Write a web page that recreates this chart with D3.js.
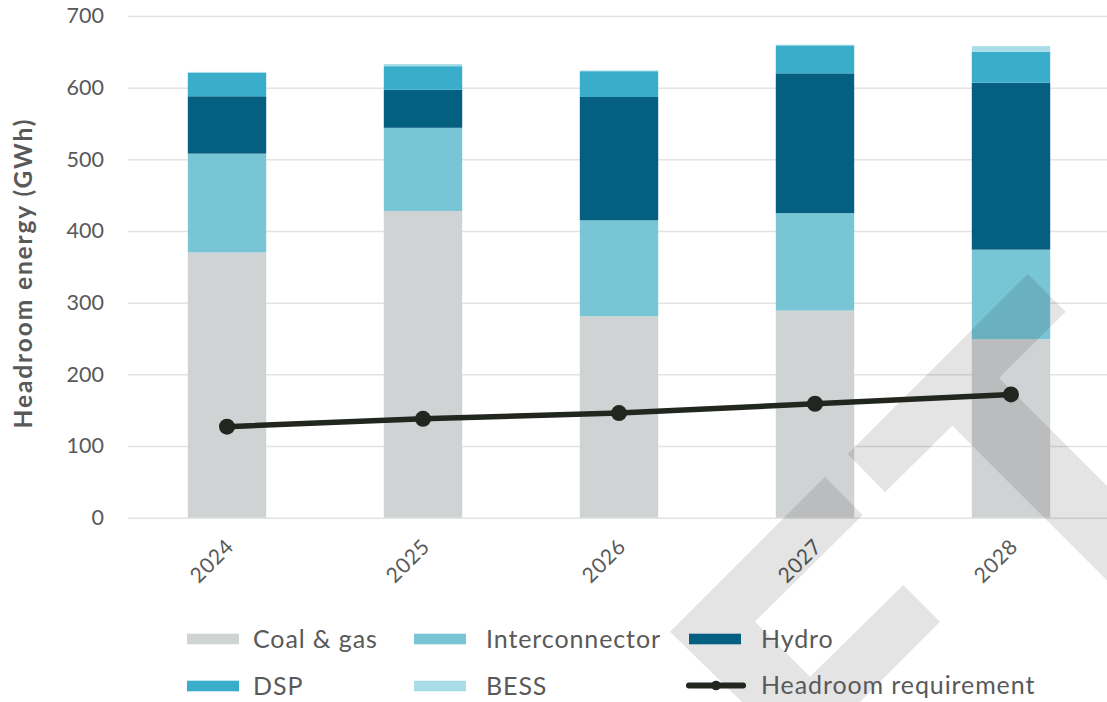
<!DOCTYPE html>
<html>
<head>
<meta charset="utf-8">
<script src="https://cdn.jsdelivr.net/npm/d3@7"></script>
<style>
  html, body { margin: 0; padding: 0; background: #fff; }
  svg { display: block; font-family: Lato, "Open Sans", sans-serif; }
</style>
</head>
<body>
<svg id="chart" width="1107" height="702"></svg>
<script>
const years = ["2024", "2025", "2026", "2027", "2028"];
const coalGas = [370, 428, 281, 289, 249];
const interconnector = [138, 116, 134, 136, 125];
const hydro = [80, 53, 172, 195, 233];
const dsp = [33, 33, 36, 39, 43];
const bess = [1, 3, 1, 1, 8];
const headroomRequirement = [127, 138, 146, 159, 172];
const yTicks = [0, 100, 200, 300, 400, 500, 600, 700];
const seriesNames = ["Coal & gas", "Interconnector", "Hydro", "DSP", "BESS"];
const seriesColors = ["#d0d3d4", "#78c5d5", "#045f80", "#3aadca", "#a8dde8"];
const lineName = "Headroom requirement";

const svg = d3.select("#chart");
const x = d3.scaleBand().domain(years).range([129, 1109]).paddingInner(0.6).paddingOuter(0.3);
const y = d3.scaleLinear().domain([0, 700]).range([517.7, 16]);

// grid
const yAxis = d3.axisLeft(y).tickValues(yTicks).tickSize(-(1107 - 128)).tickPadding(24);
const gy = svg.append("g").attr("transform", "translate(128,0)").call(yAxis);
gy.select(".domain").remove();
gy.selectAll(".tick line").attr("stroke", "#e3e3e3").attr("stroke-width", 1.5);
gy.selectAll(".tick text").attr("fill", "#595959").style("font-size", "21.5px").style("font-family", "Lato, sans-serif");

// stacked bars
const rows = years.map((yr, i) => ({
  year: yr,
  "Coal & gas": coalGas[i],
  "Interconnector": interconnector[i],
  "Hydro": hydro[i],
  "DSP": dsp[i],
  "BESS": bess[i]
}));
const stack = d3.stack().keys(seriesNames)(rows);
svg.append("g").selectAll("g").data(stack).join("g")
  .attr("fill", (d, i) => seriesColors[i])
  .selectAll("rect").data(d => d).join("rect")
  .attr("x", d => x(d.data.year))
  .attr("width", x.bandwidth())
  .attr("y", d => y(d[1]))
  .attr("height", d => y(d[0]) - y(d[1]));

// x axis labels
const xAxis = d3.axisBottom(x).tickSize(0).tickPadding(0);
const gx = svg.append("g").attr("transform", "translate(0,518)").call(xAxis);
gx.select(".domain").remove();
gx.selectAll(".tick text")
  .attr("fill", "#595959").style("font-size", "21px").style("font-family", "Lato, sans-serif")
  .style("letter-spacing", "0.6px")
  .attr("text-anchor", "end")
  .attr("dy", "0")
  .attr("transform", "translate(8,30) rotate(-45)");

// watermark (decoration)
const wm = svg.append("g").attr("fill", "#000").attr("fill-opacity", 0.105);
wm.append("path").attr("d", "M847.7,454 L1027.7,274 L1065.7,311.7 L999,378 L1107,486 L1107,580.5 L952.3,425.7 L885,492.3 Z");
wm.append("path").attr("d", "M825,476.7 L862.7,515 L755,621.7 L810,676.7 L903.3,585 L940,621.7 L860,702 L742,702 L670,631.7 Z");

// y title
svg.append("text")
  .attr("transform", "translate(32,273) rotate(-90)")
  .attr("text-anchor", "middle")
  .attr("fill", "#595959")
  .style("font-size", "24.5px").style("font-weight", "bold").style("letter-spacing", "1.9px")
  .text("Headroom energy (GWh)");

// line
const lineData = years.map((yr, i) => ({ year: yr, v: headroomRequirement[i] }));
const cx = d => x(d.year) + x.bandwidth() / 2;
svg.append("path").datum(lineData)
  .attr("fill", "none").attr("stroke", "#21261f").attr("stroke-width", 5.5)
  .attr("d", d3.line().x(cx).y(d => y(d.v)));
svg.append("g").selectAll("circle").data(lineData).join("circle")
  .attr("cx", cx).attr("cy", d => y(d.v)).attr("r", 8).attr("fill", "#21261f");

// legend
const legendItems = [
  { name: seriesNames[0], color: seriesColors[0], sx: 187, tx: 253, cy: 639 },
  { name: seriesNames[1], color: seriesColors[1], sx: 414, tx: 486, cy: 639 },
  { name: seriesNames[2], color: seriesColors[2], sx: 689, tx: 761, cy: 639 },
  { name: seriesNames[3], color: seriesColors[3], sx: 187, tx: 253, cy: 686 },
  { name: seriesNames[4], color: seriesColors[4], sx: 414, tx: 486, cy: 686 },
  { name: lineName, color: null, sx: 689, tx: 761, cy: 685.5 }
];
const lg = svg.append("g");
legendItems.forEach(it => {
  if (it.color) {
    lg.append("rect").attr("x", it.sx).attr("y", it.cy - 5.3).attr("width", 52).attr("height", 10.6).attr("fill", it.color);
  } else {
    lg.append("line").attr("x1", it.sx).attr("x2", it.sx + 54).attr("y1", it.cy).attr("y2", it.cy)
      .attr("stroke", "#21261f").attr("stroke-width", 6).attr("stroke-linecap", "round");
    lg.append("circle").attr("cx", it.sx + 27).attr("cy", it.cy).attr("r", 4.8).attr("fill", "#21261f");
  }
  lg.append("text").attr("x", it.tx).attr("y", it.cy).attr("dy", "0.35em")
    .attr("fill", "#595959").style("font-size", "25px").style("letter-spacing", "0.9px").text(it.name);
});
</script>
</body>
</html>
